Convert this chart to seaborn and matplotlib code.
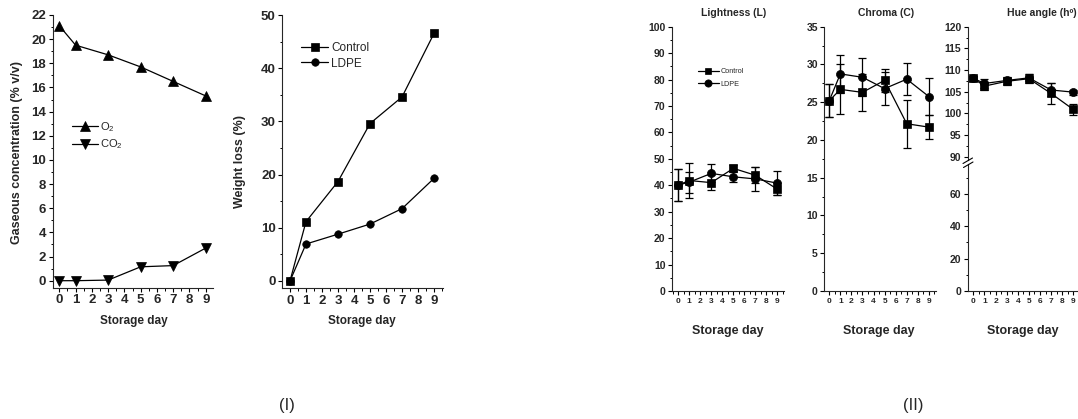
"""Storage trial: headspace gas, weight loss and colour (L, C, h) over storage days."""

import matplotlib
matplotlib.use("Agg")
import matplotlib.pyplot as plt
import pandas as pd
import seaborn as sns
from matplotlib.lines import Line2D
from matplotlib.ticker import MultipleLocator

# ========================================================================== #
# Data
# ========================================================================== #
DAYS = [0, 1, 3, 5, 7, 9]
DAY_TICKS = list(range(10))

O2 = [21.1, 19.5, 18.7, 17.7, 16.5, 15.3]
CO2 = [0.0, 0.0, 0.05, 1.15, 1.25, 2.7]

WL_CONTROL = [0.0, 11.15, 18.7, 29.6, 34.6, 46.55]
WL_LDPE = [0.0, 6.95, 8.8, 10.7, 13.6, 19.3]

L_CONTROL = [40.1, 41.8, 41.0, 46.4, 43.8, 38.5]
L_CONTROL_SD = [6.2, 6.7, 2.8, 1.1, 3.0, 2.2]
L_LDPE = [40.1, 41.2, 44.5, 43.2, 42.4, 40.8]
L_LDPE_SD = [6.0, 4.0, 3.4, 1.9, 4.6, 4.6]

C_CONTROL = [25.2, 26.7, 26.3, 27.9, 22.15, 21.7]
C_CONTROL_SD = [2.2, 3.3, 2.4, 1.5, 3.2, 1.55]
C_LDPE = [25.2, 28.75, 28.3, 26.8, 28.05, 25.75]
C_LDPE_SD = [2.2, 2.5, 2.5, 2.2, 2.15, 2.45]

H_CONTROL = [108.1, 106.3, 107.4, 108.0, 104.6, 100.9]
H_CONTROL_SD = [0.6, 0.9, 0.85, 1.0, 2.5, 1.2]
H_LDPE = [108.1, 106.9, 107.6, 108.2, 105.4, 104.9]
H_LDPE_SD = [0.6, 0.95, 0.85, 0.8, 1.5, 0.6]

FONT = ["Liberation Sans", "DejaVu Sans"]

sns.set_style("ticks")
plt.rcParams["font.family"] = FONT
plt.rcParams["mathtext.fontset"] = "custom"
plt.rcParams["mathtext.rm"] = "Liberation Sans"
plt.rcParams["axes.linewidth"] = 0.8

W, H = 1078, 419
fig = plt.figure(figsize=(W / 100, H / 100), dpi=100)
fig.patch.set_facecolor("white")


def px_axes(l, t, r, b):
    ax = fig.add_axes([l / W, 1 - b / H, (r - l) / W, (b - t) / H])
    ax.set_facecolor("none")
    sns.despine(ax=ax)
    return ax


def fig_text(x, y, s, **kw):
    fig.text(x / W, 1 - y / H, s, **kw)


def draw_series(ax, y, marker, ms, label=None, err=None):
    if err is not None:
        ax.errorbar(DAYS, y, yerr=err, fmt="none", ecolor="black",
                    elinewidth=0.9, capsize=3.2, capthick=0.9)
    df = pd.DataFrame({"day": DAYS, "value": y})
    sns.lineplot(data=df, x="day", y="value", ax=ax, color="black", marker=marker,
                 markersize=ms, markeredgecolor="black", markeredgewidth=0.5,
                 linewidth=0.9, label=label)
    ax.set_xlabel("")
    ax.set_ylabel("")


def style_axis(ax, xlim, ylim, yticks, yminor, ysize, xsize, xminor=0.5, show_x=True):
    ax.set_xlim(*xlim)
    ax.set_ylim(*ylim)
    ax.set_yticks(yticks)
    ax.set_yticklabels([str(v) for v in yticks], fontsize=ysize, fontweight="bold")
    ax.yaxis.set_minor_locator(MultipleLocator(yminor))
    ax.tick_params(axis="both", which="major", direction="out", length=3.2, width=0.8,
                   pad=1.5, color="black")
    ax.tick_params(axis="both", which="minor", direction="out", length=1.8, width=0.7,
                   color="black")
    if show_x:
        ax.set_xticks(DAY_TICKS)
        ax.set_xticklabels([str(d) for d in DAY_TICKS], fontsize=xsize, fontweight="bold")
        ax.xaxis.set_minor_locator(MultipleLocator(xminor))
    else:
        ax.set_xticks([])
        ax.tick_params(axis="x", which="both", bottom=False, labelbottom=False)
        ax.spines["bottom"].set_visible(False)


def set_legend(ax, x, y, size, hlen, spacing, mscale=1.0):
    handles, labels = ax.get_legend_handles_labels()
    ax.legend(handles, labels, loc="upper left", bbox_to_anchor=(x / W, 1 - y / H),
              bbox_transform=fig.transFigure, frameon=False, borderpad=0,
              borderaxespad=0, handlelength=hlen, handletextpad=0.25,
              labelspacing=spacing, markerscale=mscale, prop={"size": size})


# ========================================================================== #
# (I) Gas composition and weight loss
# ========================================================================== #
ax_gas = px_axes(52.7, 15, 212.7, 287.7)
draw_series(ax_gas, O2, "^", 6.8, label="O$_2$")
draw_series(ax_gas, CO2, "v", 6.8, label="CO$_2$")
style_axis(ax_gas, (-0.41, 9.43), (-0.58, 22), list(range(0, 23, 2)), 1, 9.5, 9.5)
set_legend(ax_gas, 72, 120, 8, 2.3, 0.35)

ax_wl = px_axes(282.3, 15, 442.7, 288)
draw_series(ax_wl, WL_CONTROL, "s", 5.2, label="Control")
draw_series(ax_wl, WL_LDPE, "o", 5.4, label="LDPE")
style_axis(ax_wl, (-0.48, 9.54), (-1.32, 50), list(range(0, 51, 10)), 5, 9.5, 9.5)
set_legend(ax_wl, 301, 42, 8.5, 2.3, 0.3)

fig_text(17, 153, "Gaseous concentration (% v/v)", rotation=90, ha="center", va="center",
         fontsize=9, fontweight="bold")
fig_text(240, 161, "Weight loss (%)", rotation=90, ha="center", va="center",
         fontsize=9, fontweight="bold")
fig_text(134, 321, "Storage day", ha="center", va="center", fontsize=8.5,
         fontweight="bold")
fig_text(362, 321, "Storage day", ha="center", va="center", fontsize=8.5,
         fontweight="bold")

# ========================================================================== #
# (II) Colour parameters
# ========================================================================== #
ax_l = px_axes(672, 26.7, 784, 291)
draw_series(ax_l, L_CONTROL, "s", 5.4, label="Control", err=L_CONTROL_SD)
draw_series(ax_l, L_LDPE, "o", 5.8, label="LDPE", err=L_LDPE_SD)
style_axis(ax_l, (-0.57, 9.6), (0, 100), list(range(0, 101, 10)), 5, 7.5, 6)
set_legend(ax_l, 698, 68, 5.2, 2.9, 0.75, mscale=0.9)

ax_c = px_axes(824.3, 26.7, 935.5, 291)
draw_series(ax_c, C_CONTROL, "s", 5.4, err=C_CONTROL_SD)
draw_series(ax_c, C_LDPE, "o", 5.8, err=C_LDPE_SD)
style_axis(ax_c, (-0.45, 9.6), (0, 35), list(range(0, 36, 5)), 2.5, 7.5, 6)

ax_h_top = px_axes(968, 26.7, 1080, 160)
draw_series(ax_h_top, H_CONTROL, "s", 5.4, err=H_CONTROL_SD)
draw_series(ax_h_top, H_LDPE, "o", 5.8, err=H_LDPE_SD)
style_axis(ax_h_top, (-0.48, 9.6), (89.25, 120), list(range(90, 121, 5)), 2.5, 7.5, 6,
           show_x=False)

ax_h_low = px_axes(968, 164, 1080, 291)
ax_h_low.spines["top"].set_visible(False)
style_axis(ax_h_low, (-0.48, 9.6), (0, 78.5), [0, 20, 40, 60], 10, 7.5, 6)

for (x1, y1, x2, y2) in [(963, 163.5, 972.5, 158), (963.5, 167.5, 973, 162)]:
    fig.add_artist(Line2D([x1 / W, x2 / W], [1 - y1 / H, 1 - y2 / H],
                          transform=fig.transFigure, color="black", lw=0.8))

fig_text(734, 13.5, "Lightness (L)", ha="center", va="center", fontsize=7.5,
         fontweight="bold")
fig_text(886, 13.5, "Chroma (C)", ha="center", va="center", fontsize=7.5,
         fontweight="bold")
fig_text(1007, 13.5, "Hue angle (hº)", ha="left", va="center", fontsize=7.5,
         fontweight="bold")
for xc in (728, 879, 1023):
    fig_text(xc, 331, "Storage day", ha="center", va="center", fontsize=9,
             fontweight="bold")

fig_text(287, 405, "(I)", ha="center", va="center", fontsize=12)
fig_text(913, 405, "(II)", ha="center", va="center", fontsize=12)

fig.savefig("out.png", dpi=100, facecolor="white")
